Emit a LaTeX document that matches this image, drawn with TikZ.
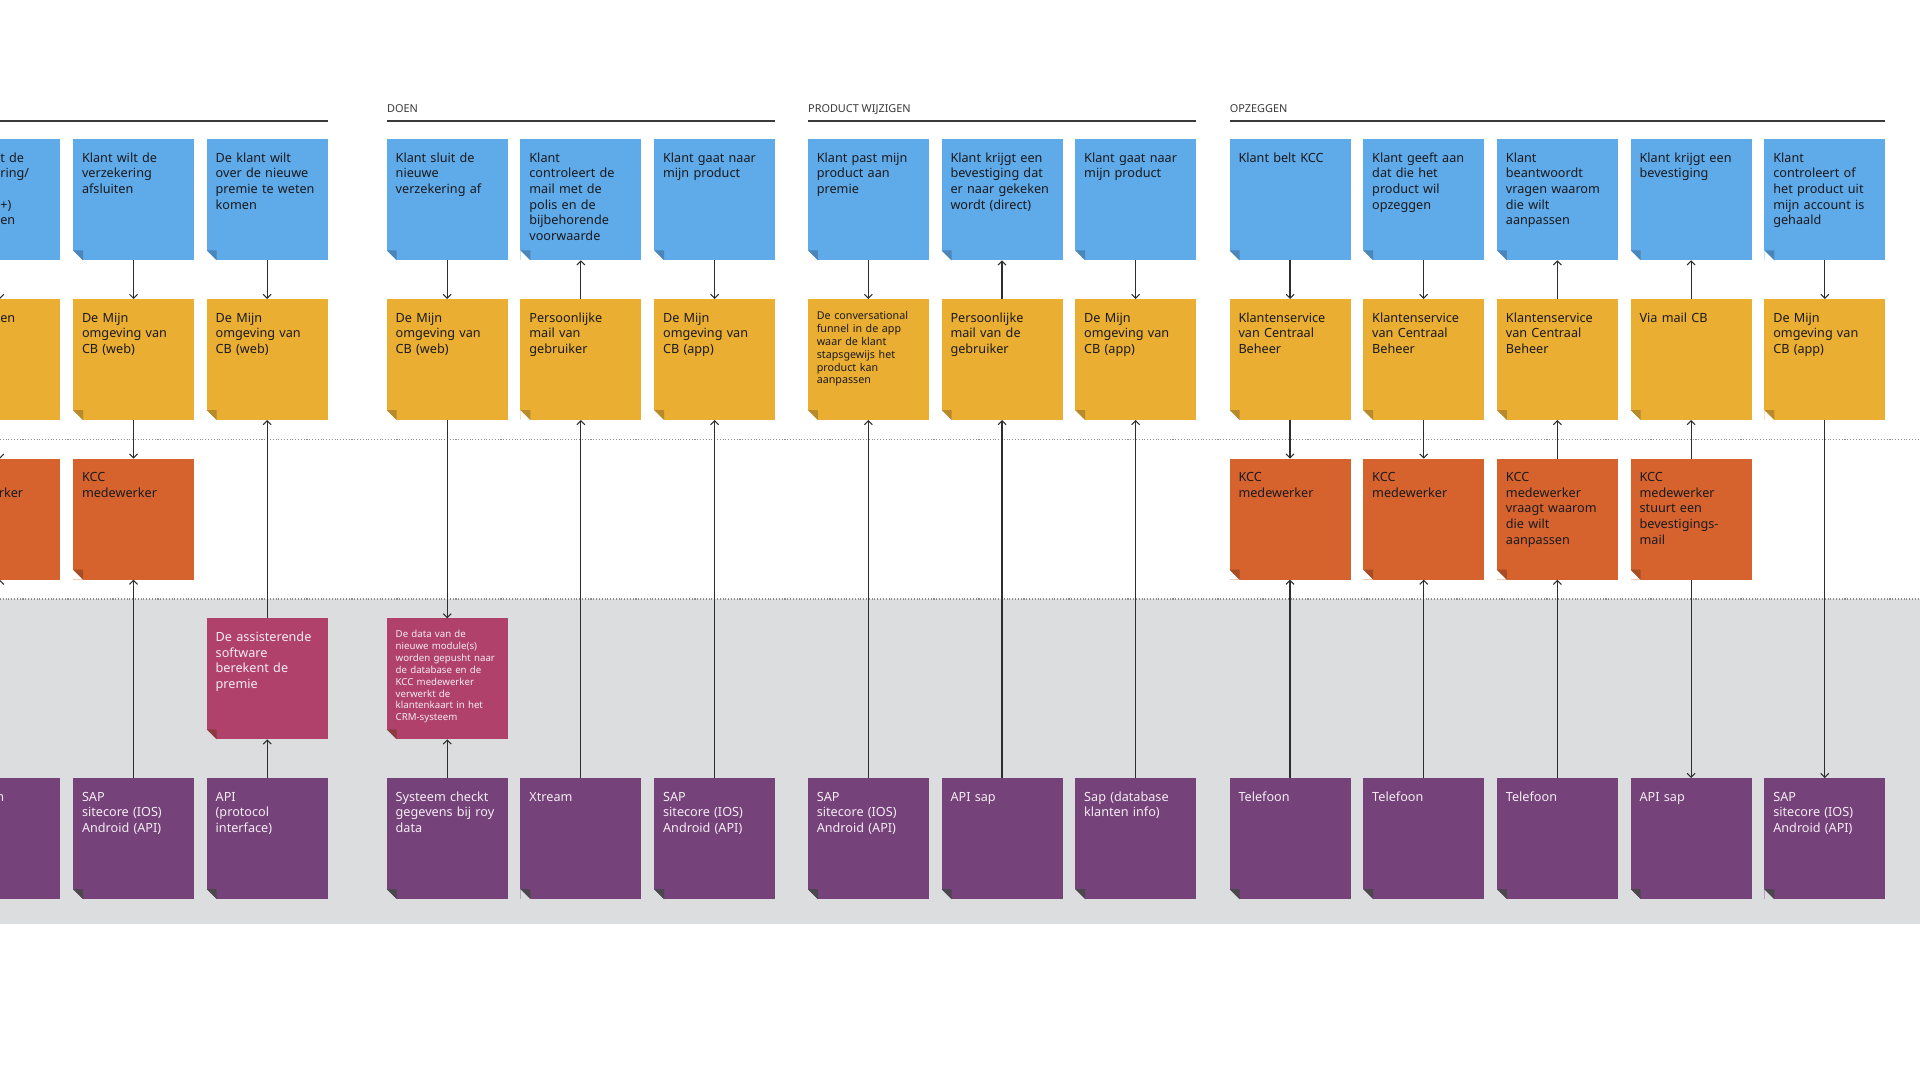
\documentclass[tikz,border=0pt]{standalone}
\usepackage{fontspec}
\setmainfont{Noto Sans}
\usepackage{tikz}
\usetikzlibrary{arrows.meta,positioning}

\definecolor{actblue}{HTML}{5FAAE8}
\definecolor{actbluedk}{HTML}{4A86BA}
\definecolor{touchyellow}{HTML}{E9AE32}
\definecolor{touchyellowdk}{HTML}{B98A2C}
\definecolor{frontorange}{HTML}{D6632D}
\definecolor{frontorangedk}{HTML}{A84C24}
\definecolor{backpink}{HTML}{B0416A}
\definecolor{backpinkdk}{HTML}{8C3A40}
\definecolor{supportpurple}{HTML}{754279}
\definecolor{supportpurpledk}{HTML}{4C464E}
\definecolor{bandgrey}{HTML}{DCDDDF}
\definecolor{inkdark}{HTML}{1A1A1E}
\definecolor{inklight}{HTML}{F4ECF3}
\definecolor{headgrey}{HTML}{3A3A3A}
\definecolor{lanegrey}{HTML}{8C8C8C}
\definecolor{linkgrey}{HTML}{2E2E2E}

% folded corner of a sticky: flap colour, background colour
\newcommand{\dogear}[2]{%
  \fill[#2] (path picture bounding box.south west) -- ++(0.2cm,0) -- ++(-0.2cm,0.2cm) -- cycle;
  \fill[#1] ([xshift=0.2cm]path picture bounding box.south west) -- ++(0,0.2cm) -- ++(-0.2cm,0) -- cycle;}

\begin{document}
\begin{tikzpicture}[
        note/.style={rectangle, outer sep=0pt, minimum width=2.42cm, minimum height=2.42cm, inner xsep=0.18cm, inner ysep=0.25cm, text width=2.06cm, text height=0.21cm, text depth=1.71cm, align=left, font=\fontsize{7.2}{8.9}\selectfont},
        action/.style={note, fill=actblue, text=inkdark, path picture={\dogear{actbluedk}{white}}},
        touchpoint/.style={note, fill=touchyellow, text=inkdark, path picture={\dogear{touchyellowdk}{white}}},
        frontstage/.style={note, fill=frontorange, text=inkdark, path picture={\dogear{frontorangedk}{white}}},
        backstage/.style={note, fill=backpink, text=inklight, path picture={\dogear{backpinkdk}{bandgrey}}},
        support/.style={note, fill=supportpurple, text=inklight, path picture={\dogear{supportpurpledk}{bandgrey}}},
        smalltext/.style={font=\fontsize{6.1}{7.3}\selectfont, text height=0.164cm, text depth=1.756cm},
        tinytext/.style={font=\fontsize{5.5}{6.75}\selectfont, text height=0.136cm, text depth=1.784cm},
        fragment/.style={anchor=base west, inner sep=0pt, align=left, text width=1cm, font=\fontsize{7.2}{8.9}\selectfont, text=inkdark},
        section/.style={anchor=base west, inner sep=0pt, font=\fontsize{6.2}{7}\selectfont\bfseries, text=headgrey},
        rule/.style={draw=headgrey, line width=0.8pt},
        lane/.style={draw=lanegrey, densely dotted, line width=0.6pt},
        arrow/.style={-{Straight Barb[length=0.8mm, width=1.6mm]}, draw=linkgrey, line width=0.6pt}
    ]
    \useasboundingbox (0,0) rectangle (38.4,-21.6);
    \clip (0,0) rectangle (38.4,-21.6);
    \fill[white] (0,0) rectangle (38.4,-21.6);

    % swimlanes
    \fill[bandgrey] (0,-11.98) rectangle (38.4,-18.474);
    \draw[lane] (0,-8.787) -- (38.4,-8.787);
    \draw[lane] (0,-11.98) -- (38.4,-11.98);

    % customer actions
    \node[action, anchor=north west] (actA1) at (-1.214,-2.786) {};
    \node[action, right=0.254cm of actA1] (actA2) {Klant wilt de\\verzekering\\afsluiten};
    \node[action, right=0.254cm of actA2] (actA3) {De klant wilt\\over de nieuwe\\premie te weten\\komen};
    \node[action, right=1.18cm of actA3] (actD1) {Klant sluit de\\nieuwe\\verzekering af};
    \node[action, right=0.254cm of actD1] (actD2) {Klant\\controleert de\\mail met de\\polis en de\\bijbehorende\\voorwaarde};
    \node[action, right=0.254cm of actD2] (actD3) {Klant gaat naar\\mijn product};
    \node[action, right=0.654cm of actD3] (actP1) {Klant past mijn\\product aan\\premie};
    \node[action, right=0.254cm of actP1] (actP2) {Klant krijgt een\\bevestiging dat\\er naar gekeken\\wordt (direct)};
    \node[action, right=0.254cm of actP2] (actP3) {Klant gaat naar\\mijn product};
    \node[action, right=0.666cm of actP3] (actO1) {Klant belt KCC};
    \node[action, right=0.254cm of actO1] (actO2) {Klant geeft aan\\dat die het\\product wil\\opzeggen};
    \node[action, right=0.254cm of actO2] (actO3) {Klant\\beantwoordt\\vragen waarom\\die wilt\\aanpassen};
    \node[action, right=0.254cm of actO3] (actO4) {Klant krijgt een\\bevestiging};
    \node[action, right=0.254cm of actO4] (actO5) {Klant\\controleert of\\het product uit\\mijn account is\\gehaald};

    % touchpoints
    \node[touchpoint, below=0.774cm of actA1] (touchA1) {};
    \node[touchpoint, below=0.774cm of actA2] (touchA2) {De Mijn\\omgeving van\\CB (web)};
    \node[touchpoint, below=0.774cm of actA3] (touchA3) {De Mijn\\omgeving van\\CB (web)};
    \node[touchpoint, below=0.774cm of actD1] (touchD1) {De Mijn\\omgeving van\\CB (web)};
    \node[touchpoint, below=0.774cm of actD2] (touchD2) {Persoonlijke\\mail van\\gebruiker};
    \node[touchpoint, below=0.774cm of actD3] (touchD3) {De Mijn\\omgeving van\\CB (app)};
    \node[touchpoint, smalltext, below=0.774cm of actP1] (touchP1) {De conversational\\funnel in de app\\waar de klant\\stapsgewijs het\\product kan\\aanpassen};
    \node[touchpoint, below=0.774cm of actP2] (touchP2) {Persoonlijke\\mail van de\\gebruiker};
    \node[touchpoint, below=0.774cm of actP3] (touchP3) {De Mijn\\omgeving van\\CB (app)};
    \node[touchpoint, below=0.774cm of actO1] (touchO1) {Klantenservice\\van Centraal\\Beheer};
    \node[touchpoint, below=0.774cm of actO2] (touchO2) {Klantenservice\\van Centraal\\Beheer};
    \node[touchpoint, below=0.774cm of actO3] (touchO3) {Klantenservice\\van Centraal\\Beheer};
    \node[touchpoint, below=0.774cm of actO4] (touchO4) {Via mail CB};
    \node[touchpoint, below=0.774cm of actO5] (touchO5) {De Mijn\\omgeving van\\CB (app)};

    % frontstage
    \node[frontstage, below=0.774cm of touchA1] (frontA1) {};
    \node[frontstage, below=0.774cm of touchA2] (frontA2) {KCC\\medewerker};
    \node[frontstage, below=0.774cm of touchO1] (frontO1) {KCC\\medewerker};
    \node[frontstage, below=0.774cm of touchO2] (frontO2) {KCC\\medewerker};
    \node[frontstage, below=0.774cm of touchO3] (frontO3) {KCC\\medewerker\\vraagt waarom\\die wilt\\aanpassen};
    \node[frontstage, below=0.774cm of touchO4] (frontO4) {KCC\\medewerker\\stuurt een\\bevestigings-\\mail};

    % backstage
    \node[backstage, below=3.968cm of touchA3] (backA3) {De assisterende\\software\\berekent de\\premie};
    \node[backstage, tinytext, below=3.968cm of touchD1] (backD1) {De data van de\\nieuwe module(s)\\worden gepusht naar\\de database en de\\KCC medewerker\\verwerkt de\\klantenkaart in het\\CRM-systeem};

    % support systems
    \node[support, below=7.162cm of touchA1] (sysA1) {};
    \node[support, below=7.162cm of touchA2] (sysA2) {SAP\\sitecore (IOS)\\Android (API)};
    \node[support, below=7.162cm of touchA3] (sysA3) {API\\(protocol\\interface)};
    \node[support, below=7.162cm of touchD1] (sysD1) {Systeem checkt\\gegevens bij roy\\data};
    \node[support, below=7.162cm of touchD2] (sysD2) {Xtream};
    \node[support, below=7.162cm of touchD3] (sysD3) {SAP\\sitecore (IOS)\\Android (API)};
    \node[support, below=7.162cm of touchP1] (sysP1) {SAP\\sitecore (IOS)\\Android (API)};
    \node[support, below=7.162cm of touchP2] (sysP2) {API sap};
    \node[support, below=7.162cm of touchP3] (sysP3) {Sap (database\\klanten info)};
    \node[support, below=7.162cm of touchO1] (sysO1) {Telefoon};
    \node[support, below=7.162cm of touchO2] (sysO2) {Telefoon};
    \node[support, below=7.162cm of touchO3] (sysO3) {Telefoon};
    \node[support, below=7.162cm of touchO4] (sysO4) {API sap};
    \node[support, below=7.162cm of touchO5] (sysO5) {SAP\\sitecore (IOS)\\Android (API)};

    % cut-off texts at the left border
    \node[fragment] (actA1frag) at (0,-3.246) {t de\\ring/\\\mbox{}\\+)\\en};
    \node[fragment] (touchA1frag) at (0,-6.44) {en};
    \node[fragment] (frontA1frag) at (-0.03,-9.948) {rker};
    \node[fragment, text=inklight] (sysA1frag) at (-0.08,-16.022) {n};

    % phases
    \draw[rule] ([yshift=0.366cm]actA1.north west) -- ([yshift=0.366cm]actA3.north east);
    \draw[rule] ([yshift=0.366cm]actD1.north west) -- ([yshift=0.366cm]actD3.north east);
    \draw[rule] ([yshift=0.366cm]actP1.north west) -- ([yshift=0.366cm]actP3.north east);
    \draw[rule] ([yshift=0.366cm]actO1.north west) -- ([yshift=0.366cm]actO5.north east);
    \node[section] (phaseD) at ([yshift=0.532cm]actD1.north west) {DOEN};
    \node[section] (phaseP) at ([yshift=0.532cm]actP1.north west) {PRODUCT WIJZIGEN};
    \node[section] (phaseO) at ([yshift=0.532cm]actO1.north west) {OPZEGGEN};

    % flows
    \draw[arrow] (actA1) -- (touchA1);
    \draw[arrow] (touchA1) -- (frontA1);
    \draw[arrow] (sysA1) -- (frontA1);
    \draw[arrow] (actA2) -- (touchA2);
    \draw[arrow] (touchA2) -- (frontA2);
    \draw[arrow] (sysA2) -- (frontA2);
    \draw[arrow] (actA3) -- (touchA3);
    \draw[arrow] (backA3) -- (touchA3);
    \draw[arrow] (sysA3) -- (backA3);
    \draw[arrow] (actD1) -- (touchD1);
    \draw[arrow] (touchD1) -- (backD1);
    \draw[arrow] (sysD1) -- (backD1);
    \draw[arrow] (touchD2) -- (actD2);
    \draw[arrow] (sysD2) -- (touchD2);
    \draw[arrow] (actD3) -- (touchD3);
    \draw[arrow] (sysD3) -- (touchD3);
    \draw[arrow] (actP1) -- (touchP1);
    \draw[arrow] (sysP1) -- (touchP1);
    \draw[arrow] (touchP2) -- (actP2);
    \draw[arrow] (sysP2) -- (touchP2);
    \draw[arrow] (actP3) -- (touchP3);
    \draw[arrow] (sysP3) -- (touchP3);
    \draw[arrow] (actO1) -- (touchO1);
    \draw[arrow] (touchO1) -- (frontO1);
    \draw[arrow] (sysO1) -- (frontO1);
    \draw[arrow] (actO2) -- (touchO2);
    \draw[arrow] (touchO2) -- (frontO2);
    \draw[arrow] (sysO2) -- (frontO2);
    \draw[arrow] (touchO3) -- (actO3);
    \draw[arrow] (frontO3) -- (touchO3);
    \draw[arrow] (sysO3) -- (frontO3);
    \draw[arrow] (touchO4) -- (actO4);
    \draw[arrow] (frontO4) -- (touchO4);
    \draw[arrow] (frontO4) -- (sysO4);
    \draw[arrow] (actO5) -- (touchO5);
    \draw[arrow] (touchO5) -- (sysO5);
\end{tikzpicture}
\end{document}
